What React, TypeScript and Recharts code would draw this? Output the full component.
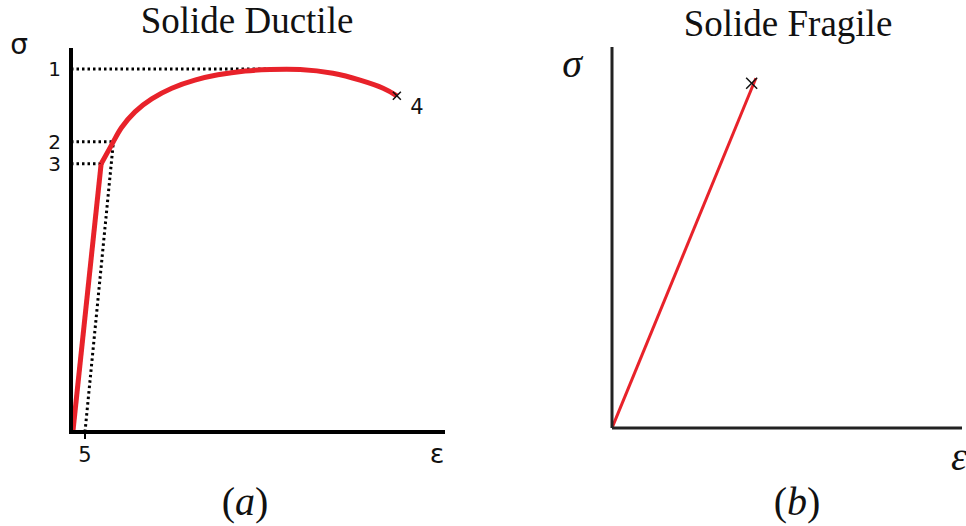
import React from "react";
import {
  ComposedChart,
  Line,
  Scatter,
  XAxis,
  YAxis,
  ReferenceLine,
} from "recharts";

// ---- Ductile solid (a) ----
const ductileElastic = [
  { eps: 0.5, sig: 0 },
  { eps: 8.1, sig: 70.2 },
];
const ductilePlastic = [
  { eps: 8.1, sig: 70.2 },
  { eps: 11.4, sig: 76.0 },
  { eps: 13.6, sig: 79.7 },
  { eps: 17.2, sig: 83.8 },
  { eps: 21.7, sig: 87.2 },
  { eps: 27.1, sig: 90.0 },
  { eps: 33.3, sig: 92.1 },
  { eps: 39.5, sig: 93.5 },
  { eps: 46.8, sig: 94.5 },
  { eps: 53.5, sig: 94.9 },
  { eps: 61.6, sig: 94.9 },
  { eps: 70.4, sig: 93.9 },
  { eps: 77.7, sig: 92.1 },
  { eps: 83.9, sig: 90.0 },
  { eps: 87.6, sig: 88.0 },
];
const ductileFracture = [{ eps: 87.6, sig: 88.0, label: "4" }];
const levelSig = [95.0, 76.0, 70.2];
const levelEps = [57.5, 11.4, 8.1];
const levelLabels = ["1", "2", "3"];
const offsetStrain = 3.76;
const offsetLabel = "5";

// ---- Brittle solid (b) ----
const fragileLine = [
  { eps: 0, sig: 0 },
  { eps: 41.1, sig: 91.8 },
];
const fragileFracture = [{ eps: 39.9, sig: 90.5, label: "" }];

const RED = "#e8222a";

const crossShape = (size: number, labelDx: number) => (props: any) => {
  const { cx, cy, payload } = props;
  const h = size / 2;
  return (
    <g>
      <line x1={cx - h} y1={cy - h} x2={cx + h} y2={cy + h} stroke="#111" strokeWidth={1.5} />
      <line x1={cx - h} y1={cy + h} x2={cx + h} y2={cy - h} stroke="#111" strokeWidth={1.5} />
      {payload && payload.label ? (
        <text
          x={cx + labelDx}
          y={cy + 18}
          fontFamily="DejaVu Sans"
          fontSize={21}
          fill="#111"
          textAnchor="middle"
        >
          {payload.label}
        </text>
      ) : null}
    </g>
  );
};

const dotted = { stroke: "#000", strokeWidth: 3, strokeDasharray: "2.5 3" };

function Ductile() {
  return (
    <ComposedChart
      width={480}
      height={526}
      margin={{ top: 50, right: 37, bottom: 64, left: 31 }}
    >
      <XAxis
        type="number"
        dataKey="eps"
        domain={[0, 100]}
        ticks={[offsetStrain]}
        interval={0}
        tickFormatter={() => offsetLabel}
        height={30}
        axisLine={{ stroke: "#000", strokeWidth: 4, strokeLinecap: "square" }}
        tickLine={{ stroke: "#000", strokeWidth: 2 }}
        tickSize={7}
        tickMargin={8}
        tick={{ fill: "#111", fontSize: 21, fontFamily: "DejaVu Sans" }}
        allowDataOverflow
      />
      <YAxis
        type="number"
        dataKey="sig"
        domain={[0, 100]}
        ticks={levelSig}
        interval={0}
        tickFormatter={(v: number) => levelLabels[levelSig.indexOf(v)] ?? ""}
        width={40}
        axisLine={{ stroke: "#000", strokeWidth: 4, strokeLinecap: "square" }}
        tickLine={false}
        tickSize={0}
        tickMargin={10}
        tick={{ fill: "#111", fontSize: 20, fontFamily: "DejaVu Sans" }}
        allowDataOverflow
      />
      {levelSig.map((s, i) => (
        <ReferenceLine
          key={i}
          segment={[
            { x: 0, y: s },
            { x: levelEps[i], y: s },
          ]}
          ifOverflow="visible"
          {...dotted}
        />
      ))}
      <ReferenceLine
        segment={[
          { x: offsetStrain, y: 0 },
          { x: levelEps[1], y: levelSig[1] },
        ]}
        ifOverflow="visible"
        {...dotted}
      />
      <Line
        data={ductileElastic}
        dataKey="sig"
        type="linear"
        stroke={RED}
        strokeWidth={5}
        dot={false}
        activeDot={false}
        isAnimationActive={false}
      />
      <Line
        data={ductilePlastic}
        dataKey="sig"
        type="natural"
        stroke={RED}
        strokeWidth={5}
        dot={false}
        activeDot={false}
        isAnimationActive={false}
      />
      <Scatter
        data={ductileFracture}
        dataKey="sig"
        shape={crossShape(8, 20)}
        isAnimationActive={false}
      />
    </ComposedChart>
  );
}

function Fragile() {
  return (
    <ComposedChart
      width={486}
      height={526}
      margin={{ top: 47, right: 4, bottom: 68, left: 130 }}
    >
      <XAxis
        type="number"
        dataKey="eps"
        domain={[0, 100]}
        height={30}
        axisLine={{ stroke: "#222", strokeWidth: 3 }}
        tick={false}
        tickLine={false}
        allowDataOverflow
      />
      <YAxis
        type="number"
        dataKey="sig"
        domain={[0, 100]}
        width={2}
        axisLine={{ stroke: "#222", strokeWidth: 3 }}
        tick={false}
        tickLine={false}
        allowDataOverflow
      />
      <Line
        data={fragileLine}
        dataKey="sig"
        type="linear"
        stroke={RED}
        strokeWidth={3}
        dot={false}
        activeDot={false}
        isAnimationActive={false}
      />
      <Scatter
        data={fragileFracture}
        dataKey="sig"
        shape={crossShape(11, 0)}
        isAnimationActive={false}
      />
    </ComposedChart>
  );
}

export default function App() {
  const serif = "Liberation Serif";
  return (
    <div
      style={{
        position: "absolute",
        left: 0,
        top: 0,
        width: 966,
        height: 526,
        background: "#fff",
        overflow: "hidden",
      }}
    >
      <div style={{ position: "absolute", left: 0, top: 0 }}>
        <Ductile />
      </div>
      <div style={{ position: "absolute", left: 480, top: 0 }}>
        <Fragile />
      </div>
      <svg
        width={966}
        height={526}
        style={{ position: "absolute", left: 0, top: 0, pointerEvents: "none" }}
      >
        <text x={247} y={33} textAnchor="middle" fontFamily={serif} fontSize={37} fill="#111">
          Solide Ductile
        </text>
        <text x={788} y={36} textAnchor="middle" fontFamily={serif} fontSize={37} fill="#111">
          Solide Fragile
        </text>
        <text x={245} y={515} textAnchor="middle" fontFamily={serif} fontSize={40} fill="#111">
          (<tspan fontStyle="italic">a</tspan>)
        </text>
        <text x={797} y={515} textAnchor="middle" fontFamily={serif} fontSize={40} fill="#111">
          (<tspan fontStyle="italic">b</tspan>)
        </text>
        <text x={19} y={54} textAnchor="middle" fontFamily="DejaVu Sans" fontSize={28} fill="#111">
          σ
        </text>
        <text x={437} y={463} textAnchor="middle" fontFamily="DejaVu Sans" fontSize={27} fill="#111">
          ε
        </text>
        <text x={572} y={77} textAnchor="middle" fontFamily={serif} fontStyle="italic" fontSize={40} fill="#111">
          σ
        </text>
        <text x={959} y={470} textAnchor="middle" fontFamily={serif} fontStyle="italic" fontSize={40} fill="#111">
          ε
        </text>
      </svg>
    </div>
  );
}
